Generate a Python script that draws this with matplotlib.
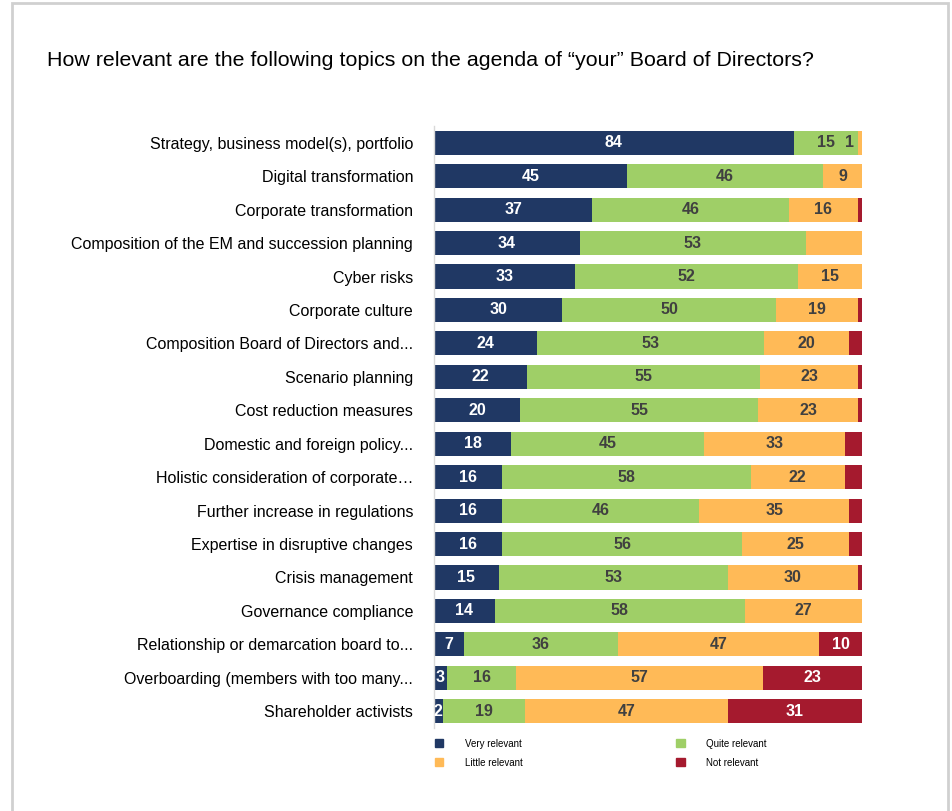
import numpy as np
from matplotlib import pyplot as plt
from matplotlib.patches import Patch, Rectangle

plt.rcParams['font.family'] = ['Liberation Sans', 'DejaVu Sans']

topics = ["Strategy, business model(s), portfolio",
          "Digital transformation",
          "Corporate transformation",
          "Composition of the EM and succession planning",
          "Cyber risks",
          "Corporate culture",
          "Composition Board of Directors and...",
          "Scenario planning",
          "Cost reduction measures",
          "Domestic and foreign policy...",
          "Holistic consideration of corporate\u2026",
          "Further increase in regulations",
          "Expertise in disruptive changes",
          "Crisis management",
          "Governance compliance",
          "Relationship or demarcation board to...",
          "Overboarding (members with too many...",
          "Shareholder activists"]

very   = [84, 45, 37, 34, 33, 30, 24, 22, 20, 18, 16, 16, 16, 15, 14, 7, 3, 2]
quite  = [15, 46, 46, 53, 52, 50, 53, 55, 55, 45, 58, 46, 56, 53, 58, 36, 16, 19]
little = [1, 9, 16, 13, 15, 19, 20, 23, 23, 33, 22, 35, 25, 30, 27, 47, 57, 47]
notrel = [0, 0, 1, 0, 0, 1, 3, 1, 1, 4, 4, 3, 3, 1, 0, 10, 23, 31]

series = ["Very relevant", "Quite relevant", "Little relevant", "Not relevant"]
colors = ["#203864", "#9FCF67", "#FFBA57", "#A51A2E"]
txt_colors = ["white", "#404040", "#404040", "white"]

# value labels that the original leaves out
hidden = {(2, 3)}

data = np.array([very, quite, little, notrel], dtype=float)
share = data / data.sum(axis=0) * 100

fig = plt.figure(figsize=(9.53, 8.11), dpi=100)
ax = fig.add_axes([434/953, 1-728/811, 428/953, (728-126)/811])

y = np.arange(len(topics))
left = np.zeros(len(topics))
for k in range(4):
    ax.barh(y, share[k], left=left, height=0.72, color=colors[k], edgecolor='none')
    for i in range(len(topics)):
        v = data[k, i]
        if v == 0 or (k, i) in hidden:
            continue
        if k > 0 and v < 5 and not (k == 2 and i == 0):
            continue
        if k == 2 and share[k, i] < 4:
            ax.text(left[i] - 0.8, i, f"{v:.0f}", ha='right', va='center',
                    color=txt_colors[k], fontsize=11.5, fontweight='bold')
        else:
            ax.text(left[i] + share[k, i]/2, i, f"{v:.0f}", ha='center', va='center',
                    color=txt_colors[k], fontsize=11.5, fontweight='bold', clip_on=False)
    left += share[k]

ax.set_xlim(0, 100)
ax.set_ylim(len(topics) - 0.5, -0.5)
ax.set_yticks(y)
ax.set_yticklabels(topics, fontsize=11.5)
ax.tick_params(axis='y', length=0, pad=15)
ax.set_xticks([])
for s in ['top', 'right', 'bottom']:
    ax.spines[s].set_visible(False)
ax.spines['left'].set_color('#D9D9D9')
ax.spines['left'].set_linewidth(1)

fig.text(47/953, 1-60/811, "How relevant are the following topics on the agenda of \u201cyour\u201d Board of Directors?",
         fontsize=15.4, ha='left', va='center')

order = [0, 2, 1, 3]
handles = [Patch(color=colors[k]) for k in order]
fig.legend(handles, [series[k] for k in order], ncol=2, loc='upper left',
           bbox_to_anchor=(426/953, 1-730/811), frameon=False, fontsize=7,
           handlelength=0.9, handleheight=0.9, handletextpad=2.2,
           columnspacing=15.8, labelspacing=0.9)

fig.patches.append(Rectangle((12/953, -0.02), (948-12)/953, 1.02-3/811,
                             transform=fig.transFigure, fill=False,
                             edgecolor='#D0D0D0', linewidth=2))

plt.savefig("out.png", dpi=100)
